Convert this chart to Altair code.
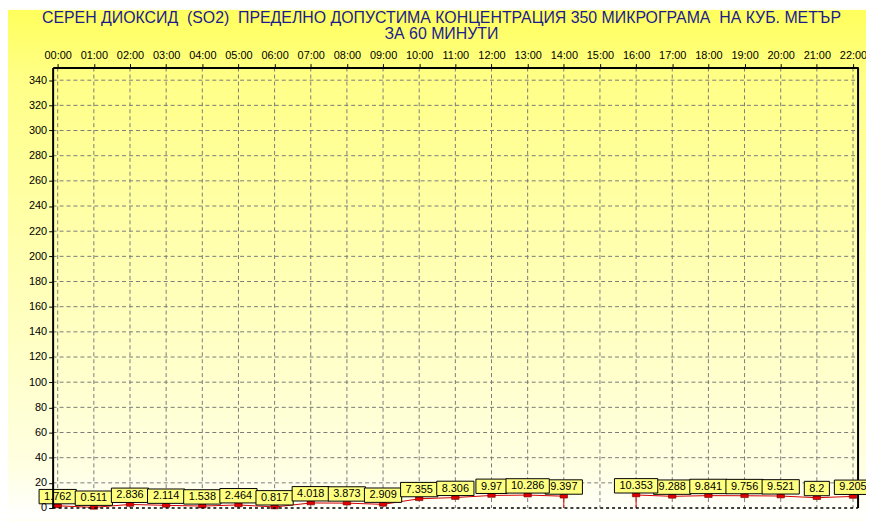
import altair as alt
import pandas as pd

# ---------------- data ----------------
hours = list(range(23))
values = [1.762, 0.511, 2.836, 2.114, 1.538, 2.464, 0.817, 4.018, 3.873, 2.909,
          7.355, 8.306, 9.97, 10.286, 9.397, None, 10.353, 9.288, 9.841, 9.756,
          9.521, 8.2, 9.205]
y_ticks = list(range(0, 341, 20))
title_lines = [
    "СЕРЕН ДИОКСИД  (SO2)  ПРЕДЕЛНО ДОПУСТИМА КОНЦЕНТРАЦИЯ 350 МИКРОГРАМА  НА КУБ. МЕТЪР",
    "ЗА 60 МИНУТИ",
]

# ---------------- layout / style ----------------
W, H = 812, 444
PL, PT, PR, PB = 45, 58, 8, 11
FONT = "Liberation Sans, Arial, sans-serif"

rows = []
missing = [h for h, v in zip(hours, values) if v is None]
for h, v in zip(hours, values):
    if v is None:
        continue
    lab = f"{v:g}"
    rows.append({"hour": h, "value": v, "label": lab,
                 "seg": sum(1 for m in missing if m < h),
                 "nd": len(lab)})
df = pd.DataFrame(rows)
edge_hours = [m - 1 for m in missing] + [m + 1 for m in missing]
edge_df = df[df["hour"].isin(edge_hours)]

x_scale = alt.Scale(domain=[-0.14, 22.14], nice=False, zero=False)
y_scale = alt.Scale(domain=[0, 350], nice=False, zero=True)

x_axis = alt.Axis(orient="top", values=hours, title=None, grid=False,
                  labelExpr="(datum.value < 10 ? '0' : '') + datum.value + ':00'",
                  tickSize=4, tickColor="black", tickWidth=1,
                  labelFont=FONT, labelFontSize=11, labelColor="black",
                  labelPadding=3, labelAngle=0, labelFlush=False, labelOverlap=False,
                  domainColor="black", domainWidth=2, zindex=1)
y_axis = alt.Axis(values=y_ticks, title=None, grid=False,
                  tickSize=4, tickColor="black", tickWidth=1,
                  labelFont=FONT, labelFontSize=11, labelColor="black",
                  labelPadding=2, labelOverlap=False,
                  domainColor="black", domainWidth=2, zindex=1)


def X(field):
    return alt.X(f"{field}:Q", scale=x_scale, axis=x_axis)


def Y(field):
    return alt.Y(f"{field}:Q", scale=y_scale, axis=y_axis)


grad = alt.LinearGradient(
    gradient="linear", x1=0, x2=0, y1=0, y2=1,
    stops=[alt.GradientStop(color="#FFFF5C", offset=0),
           alt.GradientStop(color="#FFFF88", offset=0.14),
           alt.GradientStop(color="#FFFFE2", offset=0.9),
           alt.GradientStop(color="#FFFFFF", offset=1)])

bg = alt.Chart(pd.DataFrame({"k": [0]})).mark_rect(fill=grad, strokeWidth=0).encode(
    x=alt.value(-PL), x2=alt.value(W + PR), y=alt.value(-PT), y2=alt.value(H + PB))

# title lines (double spaces kept visible with no-break spaces)
titles = []
for i, t in enumerate(title_lines):
    titles.append(
        alt.Chart(pd.DataFrame({"line": [t.replace("  ", " \u00a0")]})).mark_text(
            font=FONT, fontSize=16, color="#1C1C8E", align="center",
            baseline="middle").encode(
            text="line:N", x=alt.value(392), y=alt.value(-50 + 16 * i)))

vgrid = alt.Chart(pd.DataFrame({"h": hours})).mark_rule(
    color="#7A7A7A", strokeDash=[4, 3], strokeWidth=1).encode(
    x=X("h"), y=alt.value(0), y2=alt.value(H))

hgrid = alt.Chart(pd.DataFrame({"v": y_ticks[1:]})).mark_rule(
    color="#7A7A7A", strokeDash=[4, 3], strokeWidth=1).encode(
    y=Y("v"), x=alt.value(0), x2=alt.value(W))

base_line = alt.Chart(pd.DataFrame({"v": [0]})).mark_rule(
    color="black", strokeDash=[3, 3], strokeWidth=1.5).encode(
    y=Y("v"), x=alt.value(0), x2=alt.value(W))

right_border = alt.Chart(pd.DataFrame({"k": [0]})).mark_rule(
    color="black", strokeWidth=2).encode(
    x=alt.value(W), y=alt.value(0), y2=alt.value(H))

line = alt.Chart(df).mark_line(color="#D40000", strokeWidth=1).encode(
    x=X("hour"), y=Y("value"), detail="seg:N")

drops = alt.Chart(edge_df).mark_rule(color="#D40000", strokeWidth=1).encode(
    x=X("hour"), y=Y("value"), y2=alt.datum(0))

markers = alt.Chart(df).mark_point(
    shape="M-1,-0.5L1,-0.5L1,0.5L-1,0.5Z", size=56, filled=True,
    fill="#E00000", stroke="#700000", strokeWidth=0.6, opacity=1).encode(
    x=X("hour"), y=Y("value"))

boxes = []
for n in sorted(df["nd"].unique()):
    w = 6.12 * (n - 1) + 3.06 + 10
    boxes.append(
        alt.Chart(df).transform_filter(f"datum.nd == {n}").mark_rect(
            fill="#FFFF80", stroke="black", strokeWidth=1,
            xOffset=-w / 2, x2Offset=w / 2, yOffset=-2, y2Offset=-16.5).encode(
            x=X("hour"), x2="hour:Q", y=Y("value"), y2="value:Q"))

texts = alt.Chart(df).mark_text(
    font=FONT, fontSize=11, color="black", dy=-9, baseline="middle", align="center").encode(
    x=X("hour"), y=Y("value"), text="label:N")

chart = alt.layer(bg, *titles, vgrid, hgrid, line, drops, markers, base_line, right_border,
                  *boxes, texts).properties(
    width=W, height=H,
    autosize=alt.AutoSizeParams(type="none"),
    padding={"left": PL, "top": PT, "right": PR, "bottom": PB},
).configure_view(stroke=None).configure(background="#FFFFF4")

chart.save("out.html", embed_options={"renderer": "svg", "actions": False})
